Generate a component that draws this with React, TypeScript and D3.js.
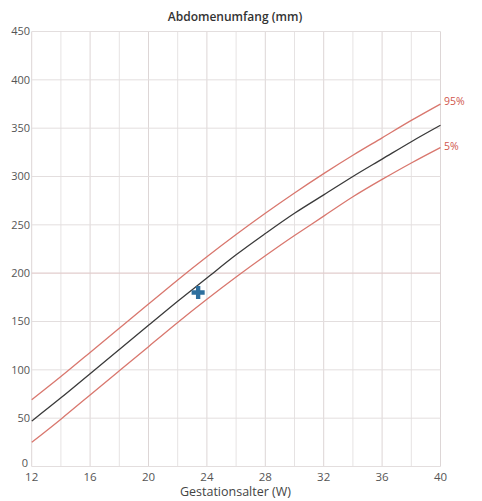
import { FC, useEffect, useRef } from "react"
import * as d3 from 'd3';

// gestational weeks sampled every 2 weeks
const WEEKS = [12, 14, 16, 18, 20, 22, 24, 26, 28, 30, 32, 34, 36, 38, 40]
const P50 = [47, 71, 96, 121, 146, 171, 195, 219, 241, 262, 281, 300, 318, 336, 353]
const P95 = [69, 93, 118, 143, 168, 193, 217, 240, 262, 283, 303, 322, 340, 358, 375]
const P5 = [25, 49, 74, 99, 124, 149, 173, 196, 218, 239, 259, 279, 297, 314, 330]
const X_TICKS = [12, 16, 20, 24, 28, 32, 36, 40]
const Y_TICKS = [0, 50, 100, 150, 200, 250, 300, 350, 400, 450]
const MEASUREMENT = { week: 23.4, value: 180 }

const FONT = "'Open Sans', 'Liberation Sans', sans-serif"

const Chart: FC = () => {
    const svgRef = useRef<SVGSVGElement>(null)

    useEffect(() => {
        const width = 482
        const height = 501
        const svg = d3.select(svgRef.current)
            .attr("width", width)
            .attr("height", height)
            .style('background', '#fff')
        svg.selectAll("*").remove()

        const x = d3.scaleLinear().domain([12, 40]).range([31.7, 440.5])
        const y = d3.scaleLinear().domain([0, 450]).range([466.5, 31.5])

        //grid
        const grid = svg.append('g')
        d3.range(12, 41, 2).forEach(w => {
            grid.append('line')
                .attr('x1', x(w)).attr('x2', x(w))
                .attr('y1', y(0)).attr('y2', y(450))
                .attr('stroke', w % 4 === 0 ? '#ddd6d6' : '#e6e3e3')
                .attr('stroke-width', 1)
        })
        Y_TICKS.forEach(v => {
            grid.append('line')
                .attr('x1', x(12)).attr('x2', x(40))
                .attr('y1', y(v)).attr('y2', y(v))
                .attr('stroke', v === 200 ? '#e2cdcd' : '#e3dede')
                .attr('stroke-width', v === 200 ? 1.4 : 1)
        })

        //axis labels
        svg.append('g').selectAll('text')
            .data(Y_TICKS)
            .join('text')
            .attr('x', (d) => d === 0 ? 28 : 30)
            .attr('y', (d) => y(d))
            .attr('dy', (d) => d === 0 ? '0.05em' : '0.35em')
            .attr('text-anchor', 'end')
            .attr('font-family', FONT)
            .attr('font-size', 11)
            .attr('fill', '#555')
            .text((d) => d)
        svg.append('g').selectAll('text')
            .data(X_TICKS)
            .join('text')
            .attr('x', (d) => x(d))
            .attr('y', 481)
            .attr('text-anchor', 'middle')
            .attr('font-family', FONT)
            .attr('font-size', 11.5)
            .attr('fill', '#555')
            .text((d) => d)

        svg.append('text')
            .attr('x', 235)
            .attr('y', 21)
            .attr('text-anchor', 'middle')
            .attr('font-family', FONT)
            .attr('font-size', 12)
            .attr('font-weight', 600)
            .attr('fill', '#333')
            .text('Abdomenumfang (mm)')
        svg.append('text')
            .attr('x', 235.5)
            .attr('y', 496)
            .attr('text-anchor', 'middle')
            .attr('font-family', FONT)
            .attr('font-size', 12.5)
            .attr('fill', '#444')
            .text('Gestationsalter (W)')

        //percentile curves
        const line = d3.line<number>()
            .x((_, i) => x(WEEKS[i]))
            .y((d) => y(d))
            .curve(d3.curveNatural)
        const series = [
            { values: P95, color: '#d9776e', width: 1.3 },
            { values: P5, color: '#d9776e', width: 1.3 },
            { values: P50, color: '#3a3a3a', width: 1.3 },
        ]
        svg.append('g').selectAll('path')
            .data(series)
            .join('path')
            .attr('d', (d) => line(d.values))
            .attr('fill', 'none')
            .attr('stroke', (d) => d.color)
            .attr('stroke-width', (d) => d.width)

        svg.append('text')
            .attr('x', 444)
            .attr('y', y(P95[P95.length - 1]))
            .attr('dy', '0.1em')
            .attr('font-family', FONT)
            .attr('font-size', 10.5)
            .attr('fill', '#d0564c')
            .text('95%')
        svg.append('text')
            .attr('x', 444)
            .attr('y', y(P5[P5.length - 1]))
            .attr('dy', '0.2em')
            .attr('font-family', FONT)
            .attr('font-size', 10.5)
            .attr('fill', '#d0564c')
            .text('5%')

        //measurement
        svg.append('path')
            .attr('d', d3.symbol(d3.symbolCross, 95)())
            .attr('transform', `translate(${x(MEASUREMENT.week)},${y(MEASUREMENT.value)})`)
            .attr('fill', '#2e6f9e')
    }, [])

    return <svg ref={svgRef} style={{ position: 'absolute', left: 0, top: 0, display: 'block' }}></svg>
}

export default function App() {
    return <Chart />
}
